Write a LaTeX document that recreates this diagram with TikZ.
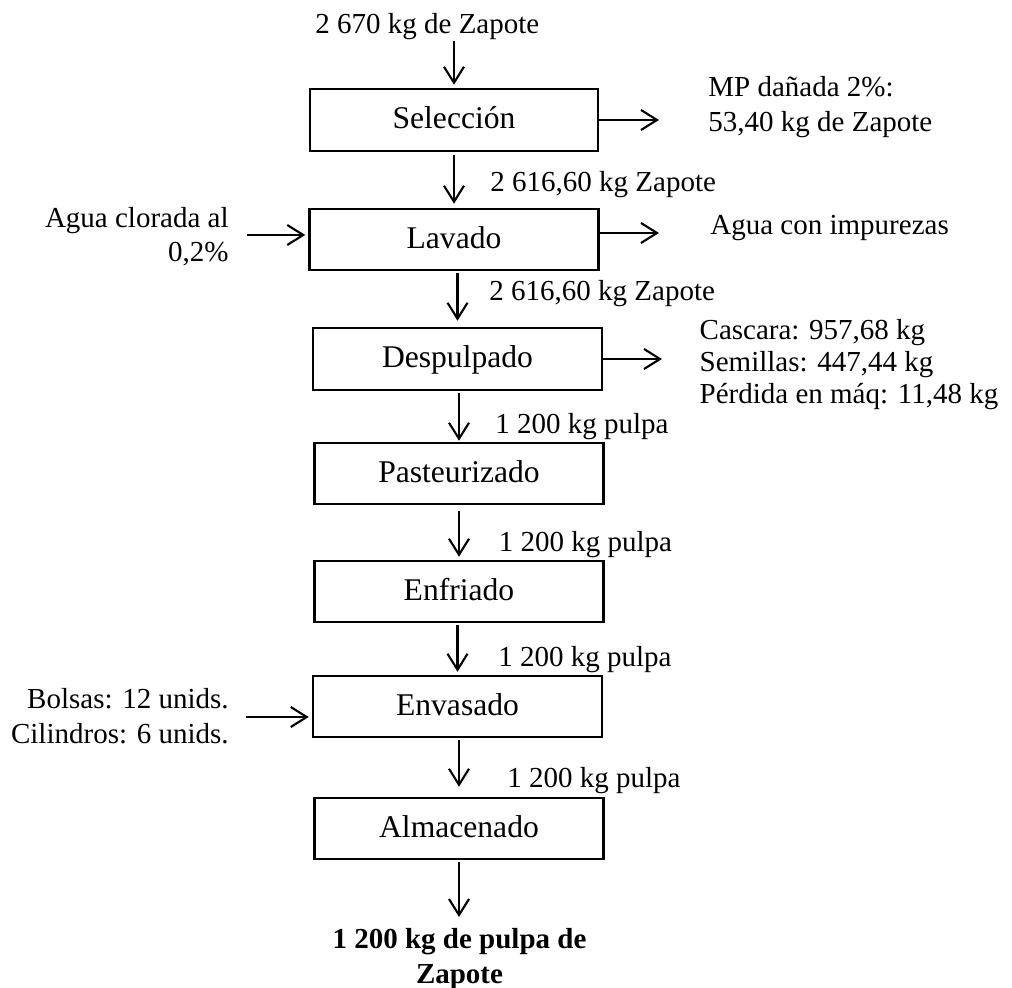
\documentclass[tikz,border=0pt]{standalone}
\usepackage{fontspec}
\setmainfont{Liberation Serif}
\usetikzlibrary{arrows.meta}
\begin{document}
\begin{tikzpicture}[x=0.5pt,y=-0.5pt,
  every node/.style={font=\fontsize{14.5}{17.5}\selectfont, inner sep=0pt},
  stage/.style={draw, line width=1.25pt, minimum width=144.5pt, minimum height=30.5pt,
                font=\fontsize{15.8}{19}\selectfont, text height=11pt, text depth=2pt},
  flow/.style={line width=1.05pt, shorten >=1.5pt, shorten <=1pt,
               -{Straight Barb[length=8pt,width=10pt,line width=1.05pt]}},
  lbl/.style={anchor=base west},
  lblr/.style={anchor=base east},
  result/.style={anchor=base, font=\fontsize{14.5}{17.5}\selectfont\bfseries},
]
\useasboundingbox (0,0) rectangle (1012,988);

% process stages
\node[stage, minimum width=144pt, minimum height=31pt] (sel) at (454,120) {Selección};
\node[stage] (lav)  at (454,239.5)   {Lavado};
\node[stage, minimum height=31pt] (desp) at (457.5,359) {Despulpado};
\node[stage] (past) at (459,473.5)   {Pasteurizado};
\node[stage] (enfr) at (459,591.5)   {Enfriado};
\node[stage] (envs) at (457.5,706.5) {Envasado};
\node[stage] (alm)  at (459,828.5)   {Almacenado};

% free ends of the side and end arrows
\coordinate (in0)     at (454,39);
\coordinate (selout)  at (662,120);
\coordinate (lavin)   at (247,235);
\coordinate (lavout)  at (662,233);
\coordinate (despout) at (665,359);
\coordinate (envin)   at (246,717);
\coordinate (fin)     at (459,917);

% main flow
\draw[flow] (in0) -- (sel.north);
\draw[flow, shorten >=2pt, shorten <=1.5pt] (sel.south) -- (lav.north);
\draw[flow, shorten >=3pt] (lav.south -| desp.north) -- (desp.north);
\draw[flow, shorten >=0.5pt] (desp.south -| past.north) -- (past.north);
\draw[flow, shorten <=3pt] (past.south) -- (enfr.north);
\draw[flow] (enfr.south -| envs.north) -- (envs.north);
\draw[flow, shorten >=5pt] (envs.south -| alm.north) -- (alm.north);
\draw[flow, shorten >=0pt] (alm.south) -- (fin);

% inputs and outputs at the sides
\draw[flow, shorten <=0pt] (sel.east) -- (selout);
\draw[flow, shorten <=0pt] (lavin) -- (lavin -| lav.west);
\draw[flow, shorten <=0pt] (lavout -| lav.east) -- (lavout);
\draw[flow, shorten <=0pt] (desp.east) -- (despout);
\draw[flow, shorten <=0pt] (envin) -- (envin -| envs.west);

% flow quantities
\node[lbl] (q0) at (315,33.3)    {2 670 kg de Zapote};
\node[lbl] (q1) at (490,192)     {2 616,60 kg Zapote};
\node[lbl] (q2) at (489,300.7)   {2 616,60 kg Zapote};
\node[lbl] (q3) at (495,434)     {1 200 kg pulpa};
\node[lbl] (q4) at (498.5,551.7) {1 200 kg pulpa};
\node[lbl] (q5) at (498,666.7)   {1 200 kg pulpa};
\node[lbl] (q6) at (507,787.3)   {1 200 kg pulpa};

% outputs
\node[lbl] (mp1) at (708,96.7)  {MP dañada 2\%:};
\node[lbl] (mp2) at (708,131.7) {53,40 kg de Zapote};
\node[lbl] (agw) at (710,235)   {Agua con impurezas};
\node[lbl] (dp1) at (699.3,339.5) {Cascara: 957,68 kg};
\node[lbl] (dp2) at (699.3,371.5) {Semillas: 447,44 kg};
\node[lbl] (dp3) at (699.3,403.5) {Pérdida en máq: 11,48 kg};

% inputs
\node[lblr] (ac1) at (229,227.3) {Agua clorada al};
\node[lblr] (ac2) at (229,261.7) {0,2\%};
\node[lblr] (bo1) at (229,708.3) {Bolsas: 12 unids.};
\node[lblr] (bo2) at (229,743.3) {Cilindros: 6 unids.};

% final product
\node[result] (res1) at (459.5,948.3) {1 200 kg de pulpa de};
\node[result] (res2) at (459.5,983.3) {Zapote};
\end{tikzpicture}
\end{document}
